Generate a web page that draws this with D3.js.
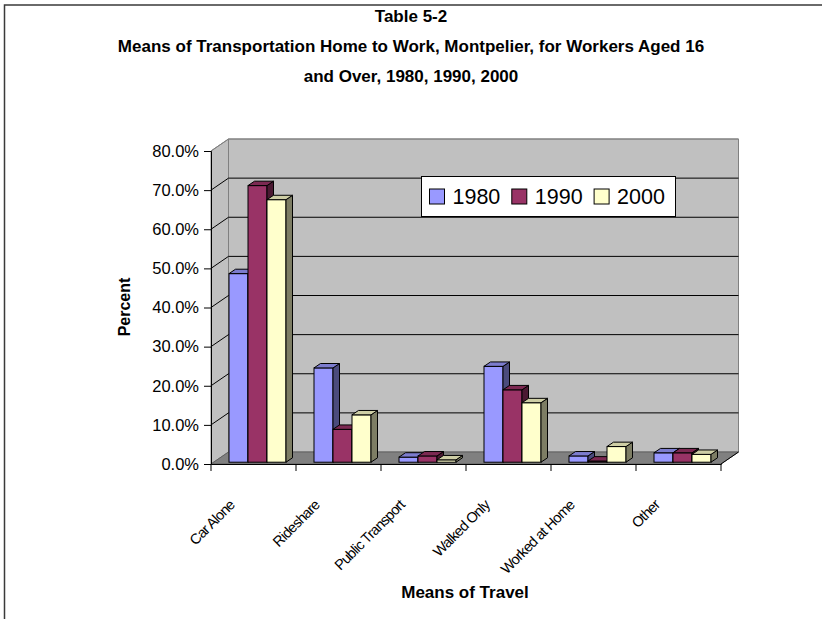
<!DOCTYPE html>
<html>
<head>
<meta charset="utf-8">
<script src="https://cdn.jsdelivr.net/npm/d3@7"></script>
<style>
  body { margin: 0; background: #fff; }
  text { font-family: "Liberation Sans", Arial, sans-serif; }
</style>
</head>
<body>
<div id="chart"></div>
<script>
// data
var categories = ["Car Alone", "Rideshare", "Public Transport", "Walked Only", "Worked at Home", "Other"];
var years = ["1980", "1990", "2000"];
var values1980 = [48.2, 24.1, 1.3, 24.5, 1.6, 2.4];
var values1990 = [70.7, 8.4, 1.6, 18.5, 0.3, 2.4];
var values2000 = [67.1, 12.1, 0.6, 15.2, 4.0, 2.0];
var yTicks = [0, 10, 20, 30, 40, 50, 60, 70, 80];
var titleLines = ["Table 5-2",
  "Means of Transportation Home to Work, Montpelier, for Workers Aged 16",
  "and Over, 1980, 1990, 2000"];

var colors = { "1980": "#9999ff", "1990": "#993366", "2000": "#ffffcc" };

var svgWidth = 822;
var svgHeight = 619;

// plot box (front plane)
var x0 = 211, x1 = 721, yBase = 464, yTop = 151;
// depth of the 3d box
var DX = 17.5, DY = -12;
// bars sit a little behind the front plane
var fDX = 2.5, fDY = -1.8;
var bDX = 6.5, bDY = -4.4;

var svg = d3.select("#chart")
  .append("svg")
  .attr("width", svgWidth)
  .attr("height", svgHeight);

// outer frame
svg.append("rect")
  .attr("x", 4.5)
  .attr("y", 5)
  .attr("width", 830)
  .attr("height", 630)
  .attr("fill", "#fff")
  .attr("stroke", "#3a3a3a")
  .attr("stroke-width", 1.5);

// title
svg.append("g").selectAll("text")
  .data(titleLines)
  .enter()
  .append("text")
  .attr("x", 411)
  .attr("y", (d, i) => 22 + i * 30)
  .attr("text-anchor", "middle")
  .attr("font-size", "17px")
  .attr("font-weight", "bold")
  .text(d => d);

var xScale = d3.scaleBand()
  .domain(categories)
  .range([x0, x1]);

var xInner = d3.scaleBand()
  .domain(years)
  .range([15.5, 72.5]);

var yScale = d3.scaleLinear()
  .domain([0, 80])
  .range([yBase, yTop]);

var chartGroup = svg.append("g");

// walls and floor
chartGroup.append("polygon")
  .attr("points", [[x0 + DX, yTop + DY], [x1 + DX, yTop + DY], [x1 + DX, yBase + DY], [x0 + DX, yBase + DY]].join(" "))
  .attr("fill", "#c0c0c0")
  .attr("stroke", "#808080");

chartGroup.append("polygon")
  .attr("points", [[x0, yTop], [x0 + DX, yTop + DY], [x0 + DX, yBase + DY], [x0, yBase]].join(" "))
  .attr("fill", "#c0c0c0")
  .attr("stroke", "#808080");

chartGroup.append("polygon")
  .attr("points", [[x0, yBase], [x1, yBase], [x1 + DX, yBase + DY], [x0 + DX, yBase + DY]].join(" "))
  .attr("fill", "#808080")
  .attr("stroke", "#606060");

// gridlines, back wall and side wall
var grid = chartGroup.append("g");
grid.selectAll(".gback")
  .data(yTicks.slice(1))
  .enter()
  .append("line")
  .attr("x1", x0 + DX)
  .attr("x2", x1 + DX)
  .attr("y1", d => yScale(d) + DY)
  .attr("y2", d => yScale(d) + DY)
  .attr("stroke", d => d == 80 ? "#808080" : "#000")
  .attr("stroke-width", 1);

grid.selectAll(".gside")
  .data(yTicks.slice(1))
  .enter()
  .append("line")
  .attr("x1", x0)
  .attr("x2", x0 + DX)
  .attr("y1", d => yScale(d))
  .attr("y2", d => yScale(d) + DY)
  .attr("stroke", d => d == 80 ? "#808080" : "#000")
  .attr("stroke-width", 1);

// legend (drawn before bars, it sits on the back wall)
var legend = chartGroup.append("g")
  .attr("transform", "translate(421.5, 176.5)");

legend.append("rect")
  .attr("width", 254)
  .attr("height", 40)
  .attr("fill", "#fff")
  .attr("stroke", "#000");

var legendItems = legend.selectAll(".item")
  .data(years)
  .enter()
  .append("g")
  .attr("transform", (d, i) => `translate(${8 + i * 82.3}, 0)`);

legendItems.append("rect")
  .attr("y", 12.5)
  .attr("width", 15)
  .attr("height", 15)
  .attr("fill", d => colors[d])
  .attr("stroke", "#000");

legendItems.append("text")
  .attr("x", 23)
  .attr("y", 27.5)
  .attr("font-size", "21.5px")
  .text(d => d);

// bars
var rows = categories.map((c, i) => ({
  category: c,
  values: [values1980[i], values1990[i], values2000[i]]
}));

var bars = [];
rows.forEach(function(row) {
  years.forEach(function(yr, j) {
    bars.push({ category: row.category, year: yr, value: row.values[j] });
  });
});

var barGroup = chartGroup.append("g");
var w = xInner.bandwidth();

bars.forEach(function(d) {
  var xl = xScale(d.category) + xInner(d.year) + fDX;
  var xr = xl + w;
  var yb = yScale(0) + fDY;
  var yt = yScale(d.value) + fDY;
  var c = d3.color(colors[d.year]);
  var g = barGroup.append("g");

  g.append("rect")
    .attr("x", xl)
    .attr("y", yt)
    .attr("width", w)
    .attr("height", yb - yt)
    .attr("fill", c)
    .attr("stroke", "#000")
    .attr("stroke-width", 1);

  g.append("polygon")
    .attr("points", [[xr, yt], [xr + bDX, yt + bDY], [xr + bDX, yb + bDY], [xr, yb]].join(" "))
    .attr("fill", c.darker(2))
    .attr("stroke", "#000")
    .attr("stroke-width", 1);

  g.append("polygon")
    .attr("points", [[xl, yt], [xr, yt], [xr + bDX, yt + bDY], [xl + bDX, yt + bDY]].join(" "))
    .attr("fill", c.darker(0.6))
    .attr("stroke", "#000")
    .attr("stroke-width", 1);
});

// y axis
var leftAxis = d3.axisLeft(yScale)
  .tickValues(yTicks)
  .tickSize(7)
  .tickPadding(5)
  .tickFormat(d => d.toFixed(1) + "%");

var yAxisG = chartGroup.append("g")
  .attr("transform", `translate(${x0}, 0)`)
  .call(leftAxis);
yAxisG.select(".domain").attr("stroke", "#000");
yAxisG.selectAll("text")
  .attr("font-family", "Liberation Sans, Arial, sans-serif")
  .attr("font-size", "16.5px")
  .attr("fill", "#000");

// x axis: line, ticks at category borders, rotated labels
var bottomAxis = d3.axisBottom(xScale).tickSize(0).tickPadding(0);
var xAxisG = chartGroup.append("g")
  .attr("transform", `translate(0, ${yBase})`)
  .call(bottomAxis);
xAxisG.select(".domain").attr("stroke", "#000");
xAxisG.selectAll(".tick text")
  .attr("font-family", "Liberation Sans, Arial, sans-serif")
  .attr("font-size", "14.5px")
  .attr("letter-spacing", "-0.8px")
  .attr("fill", "#000")
  .attr("text-anchor", "end")
  .attr("dy", null)
  .attr("y", 0)
  .attr("transform", `translate(${-18}, 42) rotate(-45)`);

xAxisG.selectAll(".border")
  .data(d3.range(categories.length + 1))
  .enter()
  .append("line")
  .attr("x1", i => x0 + i * xScale.step())
  .attr("x2", i => x0 + i * xScale.step())
  .attr("y1", 0)
  .attr("y2", 7)
  .attr("stroke", "#000");

// right edge of the floor front
chartGroup.append("line")
  .attr("x1", x1).attr("y1", yBase)
  .attr("x2", x1 + DX).attr("y2", yBase + DY)
  .attr("stroke", "#000");

// axis titles
svg.append("text")
  .attr("transform", "translate(130, 307) rotate(-90)")
  .attr("text-anchor", "middle")
  .attr("font-size", "16px")
  .attr("font-weight", "bold")
  .text("Percent");

svg.append("text")
  .attr("x", 465)
  .attr("y", 598)
  .attr("text-anchor", "middle")
  .attr("font-size", "17px")
  .attr("font-weight", "bold")
  .text("Means of Travel");
</script>
</body>
</html>
